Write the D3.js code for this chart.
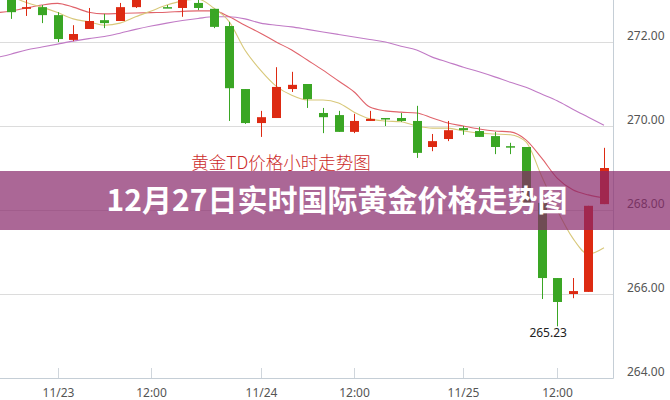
<!DOCTYPE html>
<html><head><meta charset="utf-8">
<script src="https://cdn.jsdelivr.net/npm/d3@7"></script>
<style>html,body{margin:0;padding:0;background:#fff;overflow:hidden}svg{display:block}</style>
</head><body>
<svg id="c" width="670" height="400"></svg>
<script>
const categories = ["11/22 20:00","11/22 21:00","11/22 22:00","11/22 23:00","11/23 00:00","11/23 01:00","11/23 02:00","11/23 09:00","11/23 10:00","11/23 11:00","11/23 13:00","11/23 14:00","11/23 15:00","11/23 20:00","11/23 21:00","11/23 22:00","11/23 23:00","11/24 00:00","11/24 01:00","11/24 02:00","11/24 09:00","11/24 10:00","11/24 11:00","11/24 13:00","11/24 14:00","11/24 15:00","11/24 20:00","11/24 21:00","11/24 22:00","11/24 23:00","11/25 00:00","11/25 01:00","11/25 02:00","11/25 09:00","11/25 10:00","11/25 11:00","11/25 13:00","11/25 14:00","11/25 15:00","11/25 20:00"];
const open  = [273.25,273.12,272.79,272.83,272.64,272.05,272.31,272.52,272.50,272.83,273.12,272.83,272.81,272.93,272.79,272.38,270.88,270.07,270.19,270.88,271.00,270.31,270.26,269.86,270.12,270.19,270.19,270.12,269.50,269.69,269.95,269.88,269.76,269.52,269.50,268.17,266.38,266.00,266.05,268.14];
const close = [273.12,272.71,272.83,272.64,272.07,272.19,272.50,272.45,272.83,273.10,273.25,272.82,273.07,272.81,272.36,270.90,270.07,270.21,270.93,270.98,270.64,270.21,269.86,270.12,270.17,270.18,270.12,269.36,269.64,269.90,269.90,269.74,269.50,269.50,268.17,266.38,265.81,266.07,268.10,269.00];
const high  = [273.30,273.19,273.05,272.88,272.71,272.40,272.81,272.67,272.93,273.19,273.35,272.88,273.14,273.00,272.79,272.48,270.88,270.36,271.40,271.29,271.00,270.43,270.36,270.29,270.36,270.19,270.31,270.48,269.81,270.12,270.00,269.98,269.86,269.60,269.50,268.24,266.38,266.38,268.10,269.48];
const low   = [273.05,272.55,272.62,272.45,272.00,272.02,272.31,272.33,272.50,272.81,273.05,272.81,272.60,272.76,272.33,270.12,270.05,269.74,270.19,270.81,270.43,269.83,269.86,269.83,270.12,270.00,270.10,269.24,269.40,269.64,269.79,269.74,269.33,269.33,268.12,265.88,265.23,265.90,266.05,268.14];
const ma5   = [273.36,273.10,272.94,272.83,272.70,272.55,272.48,272.40,272.45,272.60,272.74,272.88,272.98,273.02,272.81,272.48,271.81,271.33,270.95,270.73,270.62,270.62,270.55,270.33,270.17,270.12,270.10,270.00,269.95,269.95,269.88,269.83,269.81,269.79,269.62,268.81,268.00,267.33,266.95,267.10];
const ma10  = [272.69,272.74,272.81,272.88,272.92,272.83,272.71,272.67,272.68,272.69,272.70,272.71,272.73,272.74,272.74,272.60,272.40,272.21,272.00,271.81,271.57,271.33,271.07,270.81,270.45,270.36,270.33,270.31,270.19,270.07,270.00,269.93,269.88,269.86,269.67,269.24,268.76,268.48,268.36,268.29];
const ma20  = [271.62,271.71,271.81,271.88,271.95,272.02,272.08,272.13,272.21,272.30,272.38,272.45,272.51,272.56,272.60,272.60,272.55,272.45,272.40,272.36,272.30,272.24,272.18,272.12,272.06,272.00,271.90,271.81,271.64,271.52,271.40,271.29,271.17,271.04,270.92,270.76,270.60,270.40,270.21,270.02];
const yTicks = [264, 266, 268, 270, 272];
const xTickCats = ["11/23 00:00","11/23 13:00","11/24 00:00","11/24 13:00","11/25 00:00","11/25 13:00"];
const xTickLabels = ["11/23","12:00","11/24","12:00","11/25","12:00"];
const chartTitle = "黄金TD价格小时走势图";
const bannerText = "12月27日实时国际黄金价格走势图";
const minLabel = "265.23";

const svg = d3.select("#c");
const W = 670, H = 400;
const plotRight = 613, axisY = 378;
const x = d3.scalePoint().domain(categories).range([-4.9, 604]);
const y = d3.scaleLinear().domain([264, 272]).range([axisY, 42]);

const FONT = "'Noto Sans', 'DejaVu Sans', sans-serif";
const CJK = "'Noto Sans CJK SC', 'Noto Sans', sans-serif";

// gridlines
svg.append("g").selectAll("line").data(yTicks.filter(d => d !== 264)).join("line")
  .attr("x1", 0).attr("x2", plotRight)
  .attr("y1", d => Math.round(y(d)) + 0.5).attr("y2", d => Math.round(y(d)) + 0.5)
  .attr("stroke", "#dcdcdc").attr("stroke-width", 1);

// axes lines
svg.append("line").attr("x1", 0).attr("x2", plotRight + 0.5)
  .attr("y1", axisY + 0.5).attr("y2", axisY + 0.5).attr("stroke", "#c5ced6");
svg.append("line").attr("x1", plotRight + 0.5).attr("x2", plotRight + 0.5)
  .attr("y1", 0).attr("y2", axisY + 0.5).attr("stroke", "#c5ced6");

// x ticks
const xt = svg.append("g");
xTickCats.forEach((c, i) => {
  const px = Math.round(x(c)) + 0.5;
  xt.append("line").attr("x1", px).attr("x2", px).attr("y1", axisY - 10).attr("y2", axisY)
    .attr("stroke", "#d0d6dc");
  xt.append("text").attr("x", px).attr("y", 397).attr("text-anchor", "middle")
    .attr("font-family", FONT).attr("font-size", 12).attr("fill", "#555")
    .text(xTickLabels[i]);
});

// y labels
svg.append("g").selectAll("text").data(yTicks).join("text")
  .attr("x", 627).attr("y", d => y(d) - 2)
  .attr("font-family", FONT).attr("font-size", 12).attr("fill", "#555")
  .text(d => d.toFixed(2));

// MA lines
const line = d3.line().x((d, i) => x(categories[i])).y(d => y(d)).curve(d3.curveMonotoneX);
[[ma20, "#c17bc6"], [ma10, "#e0636b"], [ma5, "#d8c87a"]].forEach(([s, col]) => {
  svg.append("path").attr("d", line(s)).attr("fill", "none")
    .attr("stroke", col).attr("stroke-width", 1.1);
});

// candles
const RED = "#dd2a12", GREEN = "#3aa624";
const cg = svg.append("g");
categories.forEach((c, i) => {
  const cx = Math.round(x(c)) + 0.5;
  const up = close[i] >= open[i];
  const col = up ? RED : GREEN;
  cg.append("line").attr("x1", cx).attr("x2", cx)
    .attr("y1", y(high[i])).attr("y2", y(low[i])).attr("stroke", col).attr("stroke-width", 1);
  const top = y(Math.max(open[i], close[i])), bot = y(Math.min(open[i], close[i]));
  cg.append("rect").attr("x", cx - 4.5).attr("width", 9)
    .attr("y", top).attr("height", Math.max(1.5, bot - top)).attr("fill", col);
});

// min annotation
const iMin = low.indexOf(d3.min(low));
svg.append("text").attr("x", x(categories[iMin]) - 9).attr("y", y(low[iMin]) + 10.5)
  .attr("text-anchor", "middle").attr("font-family", FONT).attr("font-size", 12)
  .attr("fill", "#222").text(minLabel);

// chart title
svg.append("text").attr("x", 281).attr("y", 169).attr("text-anchor", "middle")
  .attr("font-family", CJK).attr("font-size", 17.5).attr("font-weight", 300)
  .attr("fill", "#cc2a2a").text(chartTitle);

// banner
svg.append("rect").attr("x", 0).attr("y", 171).attr("width", W).attr("height", 59)
  .attr("fill", "rgb(136,39,105)").attr("fill-opacity", 0.7);
svg.append("text").attr("x", 337).attr("y", 211).attr("text-anchor", "middle")
  .attr("font-family", CJK).attr("font-size", 30).attr("font-weight", 700)
  .attr("fill", "#fff").text(bannerText);
</script>
</body></html>
